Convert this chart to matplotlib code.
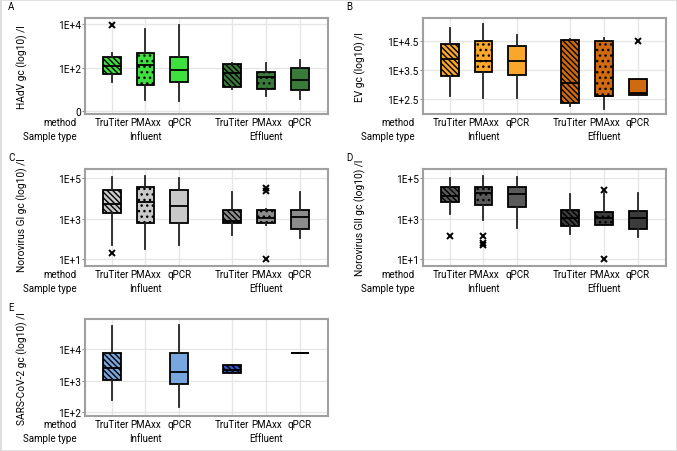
import matplotlib
matplotlib.use('Agg')
import matplotlib.pyplot as plt
from matplotlib.patches import Rectangle
from matplotlib.transforms import blended_transform_factory

plt.rcParams['font.family'] = ['Roboto', 'DejaVu Sans']
plt.rcParams['hatch.linewidth'] = 1.0

methods = ['TruTiter', 'PMAxx', 'qPCR', 'TruTiter', 'PMAxx', 'qPCR']
sample_types = ['Influent', 'Effluent']
hatches = ['\\\\\\\\\\\\', '...', '', '\\\\\\\\\\\\', '...', '']

# box stats per panel, log10 values: (whislo, q1, med, q3, whishi, fliers), None = no data
hadv = [(1.35, 1.71, 2.06, 2.50, 2.66, [3.95]),
        (0.49, 1.19, 2.10, 2.69, 3.76, []),
        (0.48, 1.35, 1.90, 2.47, 3.97, []),
        (1.00, 1.12, 1.76, 2.18, 2.21, []),
        (0.71, 1.03, 1.55, 1.79, 2.23, []),
        (0.56, 0.95, 1.44, 1.98, 2.37, [])]
ev = [(2.59, 3.29, 3.90, 4.42, 4.97, []),
      (2.52, 3.43, 3.81, 4.51, 5.09, []),
      (2.52, 3.34, 3.81, 4.34, 4.73, []),
      (2.27, 2.35, 3.06, 4.53, 4.57, []),
      (2.17, 2.62, 2.62, 4.51, 4.62, []),
      (2.64, 2.64, 2.70, 3.19, 3.19, [4.50])]
nov_gi = [(1.67, 3.27, 3.72, 4.43, 5.08, [1.27]),
          (1.50, 2.80, 3.80, 4.58, 5.13, []),
          (1.68, 2.77, 3.60, 4.42, 5.02, []),
          (2.17, 2.78, 2.88, 3.43, 4.30, []),
          (2.67, 2.78, 3.05, 3.42, 3.45, [4.38, 4.50, 0.97]),
          (2.05, 2.47, 3.08, 3.42, 4.30, [])]
nov_gii = [(3.21, 3.82, 4.11, 4.59, 5.00, [2.13]),
           (2.95, 3.69, 4.26, 4.56, 5.13, [2.15, 1.77, 1.67]),
           (2.52, 3.57, 4.23, 4.56, 5.08, []),
           (2.21, 2.62, 3.03, 3.44, 4.23, []),
           (2.67, 2.67, 3.03, 3.34, 4.26, [4.43, 1.00]),
           (2.08, 2.49, 3.03, 3.39, 4.26, [])]
sars = [(2.39, 3.03, 3.41, 3.88, 4.76, []),
        None,
        (2.16, 2.91, 3.28, 3.88, 4.79, []),
        (3.24, 3.24, 3.36, 3.49, 3.49, []),
        None,
        (3.88, 3.88, 3.88, 3.88, 3.88, [])]

panels = [
    dict(letter='A', data=hadv, ylabel='HAdV gc (log10) /l',
         colors=['#3ee03e', '#3a7a3a'], ylim=(-0.14, 4.29),
         ticks=[0, 2, 4], labels=['0', '1E+2', '1E+4'],
         rect=[85, 19, 328, 115], lab_y=0.5),
    dict(letter='B', data=ev, ylabel='EV gc (log10) /l',
         colors=['#f9a72c', '#d06a10'], ylim=(1.98, 5.31),
         ticks=[2.5, 3.5, 4.5], labels=['1E+2.5', '1E+3.5', '1E+4.5'],
         rect=[423, 19, 666, 115], lab_y=0.5),
    dict(letter='C', data=nov_gi, ylabel='Norovirus GI gc (log10) /l',
         colors=['#c9c9c9', '#8c8c8c'], ylim=(0.63, 5.47),
         ticks=[1, 3, 5], labels=['1E+1', '1E+3', '1E+5'],
         rect=[85, 170, 328, 267], lab_y=0.53),
    dict(letter='D', data=nov_gii, ylabel='Norovirus GII gc (log10) /l',
         colors=['#5a5a5a', '#3c3c3c'], ylim=(0.63, 5.47),
         ticks=[1, 3, 5], labels=['1E+1', '1E+3', '1E+5'],
         rect=[423, 170, 666, 267], lab_y=0.51),
    dict(letter='E', data=sars, ylabel='SARS-CoV-2 gc (log10) /l',
         colors=['#78a6df', '#3a56c4'], ylim=(1.88, 4.97),
         ticks=[2, 3, 4], labels=['1E+2', '1E+3', '1E+4'],
         rect=[85, 320, 328, 417], lab_y=0.5),
]

W, H = 677, 452
positions = [0, 1, 2, 3.57, 4.57, 5.57]
group_centers = [1, 4.57]
fs = 7.0

fig = plt.figure(figsize=(W / 100, H / 100), dpi=100)
fig.patches.append(Rectangle((0, 0), 1, 1, transform=fig.transFigure,
                             fill=False, edgecolor='#dddddd', linewidth=2))

for p in panels:
    x0, y0, x1, y1 = p['rect']
    ax = fig.add_axes([x0 / W, 1 - y1 / H, (x1 - x0) / W, (y1 - y0) / H])

    stats, pos, cols, hts = [], [], [], []
    for i, d in enumerate(p['data']):
        if d is None:
            continue
        lo, q1, med, q3, hi, fl = d
        stats.append(dict(whislo=lo, q1=q1, med=med, q3=q3, whishi=hi, fliers=fl))
        pos.append(positions[i])
        cols.append(p['colors'][0] if i < 3 else p['colors'][1])
        hts.append(hatches[i])

    bp = ax.bxp(stats, positions=pos, widths=0.53, patch_artist=True,
                showcaps=False,
                boxprops=dict(edgecolor='black', linewidth=1.3),
                medianprops=dict(color='black', linewidth=1.3),
                whiskerprops=dict(color='#222222', linewidth=1.3),
                flierprops=dict(marker='x', markeredgecolor='black',
                                markersize=5, markeredgewidth=1.4))
    for box, c, h in zip(bp['boxes'], cols, hts):
        box.set_facecolor(c)
        box.set_hatch(h)

    ax.set_xlim(-0.79, 6.40)
    ax.set_ylim(*p['ylim'])
    ax.set_yticks(p['ticks'])
    ax.set_yticklabels(p['labels'], fontsize=fs + 0.3)
    ax.set_xticks(positions)
    ax.set_xticklabels(methods, fontsize=fs)
    ax.tick_params(axis='x', length=0, pad=2)
    ax.tick_params(axis='y', length=2, width=0.8, color='#888888', pad=1)
    ax.grid(True, color='#e6e6e6', linewidth=1)
    ax.set_axisbelow(True)
    for s in ax.spines.values():
        s.set_color('#a0a0a0')
        s.set_linewidth(1.5)

    tr = blended_transform_factory(ax.transData, ax.transAxes)
    for gx, name in zip(group_centers, sample_types):
        ax.text(gx, -0.18, name, transform=tr, ha='center', va='top', fontsize=fs)
    ax.text(-0.033, -0.035, 'method', transform=ax.transAxes, ha='right', va='top', fontsize=fs)
    ax.text(-0.033, -0.18, 'Sample type', transform=ax.transAxes, ha='right', va='top', fontsize=fs)

    ax.set_ylabel(p['ylabel'], fontsize=fs + 0.3)
    ax.yaxis.set_label_coords(-0.235, p['lab_y'])

    fig.text((x0 - 77) / W, 1 - (y0 - 12) / H, p['letter'], fontsize=fs,
             ha='left', va='center')

fig.savefig('out.png', dpi=100)
